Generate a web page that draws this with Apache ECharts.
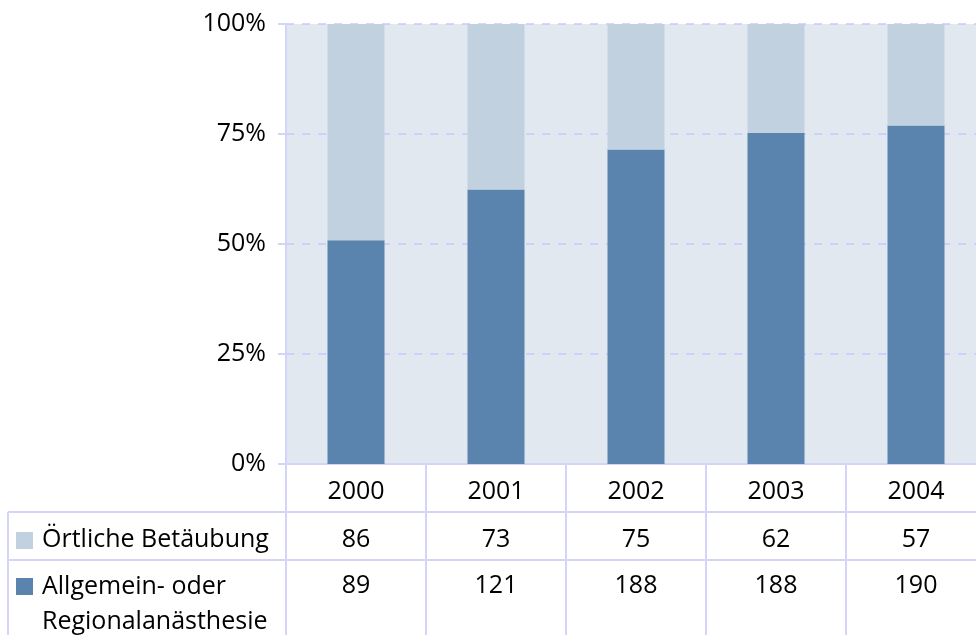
<!DOCTYPE html>
<html>
<head>
<meta charset="utf-8">
<script src="https://cdn.jsdelivr.net/npm/echarts@6/dist/echarts.min.js"></script>
<style>
html, body { margin: 0; padding: 0; background: #fff; }
#main { width: 976px; height: 635px; }
</style>
</head>
<body>
<div id="main"></div>
<script>
var years = ['2000', '2001', '2002', '2003', '2004'];
var oertlich = [86, 73, 75, 62, 57];
var allgemein = [89, 121, 188, 188, 190];
var seriesNames = ['Örtliche Betäubung', 'Allgemein- oder\nRegionalanästhesie'];
var tickLabels = ['0%', '25%', '50%', '75%', '100%'];

var FONT = '"Open Sans", "Noto Sans", sans-serif';
var FS = 25;
var DARK = '#5a84ad', LIGHT = '#c1d1e0', LINE = '#d4d4f8';

// Anteile in Prozent aus den Zahlen
var pctA = [], pctO = [];
for (var i = 0; i < years.length; i++) {
    var sum = oertlich[i] + allgemein[i];
    pctA.push(allgemein[i] / sum * 100);
    pctO.push(oertlich[i] / sum * 100);
}

var chart = echarts.init(document.getElementById('main'));
var option = {
    animation: false,
    grid: {
        left: 286, width: 700, top: 24, bottom: 171,
        outerBoundsMode: 'none',
        show: true,
        backgroundColor: '#e1e8f0',
        borderWidth: 0
    },
    xAxis: {
        type: 'category',
        data: years,
        axisLine: { lineStyle: { color: LINE, width: 2 } },
        axisTick: { show: false },
        axisLabel: {
            color: '#000', fontSize: FS, fontFamily: FONT, margin: 15
        }
    },
    yAxis: {
        type: 'value',
        min: 0, max: 100, interval: 25,
        axisLine: { show: true, lineStyle: { color: LINE, width: 2 } },
        axisTick: { show: true, length: 8, lineStyle: { color: LINE, width: 2 } },
        splitLine: { lineStyle: { color: '#c8c8ff', type: [8, 8], width: 1.5 } },
        axisLabel: {
            color: '#000', fontSize: FS, fontFamily: FONT, margin: 20,
            formatter: function (v) { return tickLabels[v / 25]; }
        }
    },
    series: [{
        name: seriesNames[1],
        type: 'bar',
        stack: 'a',
        barWidth: 57,
        itemStyle: { color: DARK },
        data: pctA
    }, {
        name: seriesNames[0],
        type: 'bar',
        stack: 'a',
        barWidth: 57,
        itemStyle: { color: LIGHT },
        data: pctO
    }]
};
chart.setOption(option);

// Datentabelle unter dem Diagramm
function drawTable() {
    var g = [];
    var x0 = chart.convertToPixel({ xAxisIndex: 0 }, years[0]);
    var x1 = chart.convertToPixel({ xAxisIndex: 0 }, years[1]);
    var step = x1 - x0;
    var left = x0 - step / 2;
    var yAxisY = chart.convertToPixel({ yAxisIndex: 0 }, 0);
    var row1 = yAxisY + 48, row2 = row1 + 48, bottom = 640;
    var lineStyle = { stroke: LINE, lineWidth: 2 };
    var font = FS + 'px ' + FONT;

    g.push({ type: 'line', shape: { x1: 8, y1: row1, x2: 976, y2: row1 }, style: lineStyle });
    g.push({ type: 'line', shape: { x1: 8, y1: row2, x2: 976, y2: row2 }, style: lineStyle });
    g.push({ type: 'line', shape: { x1: 8, y1: row1, x2: 8, y2: bottom }, style: lineStyle });
    for (var i = 0; i <= years.length; i++) {
        var x = left + i * step;
        g.push({ type: 'line', shape: { x1: x, y1: yAxisY, x2: x, y2: bottom }, style: lineStyle });
    }
    for (var i = 0; i < years.length; i++) {
        var cx = x0 + i * step;
        g.push({ type: 'text', x: cx, y: row1 + 28, style: {
            text: String(oertlich[i]), fill: '#000', font: font,
            align: 'center', verticalAlign: 'middle' } });
        g.push({ type: 'text', x: cx, y: row2 + 26, style: {
            text: String(allgemein[i]), fill: '#000', font: font,
            align: 'center', verticalAlign: 'middle' } });
    }
    g.push({ type: 'rect', shape: { x: 16, y: row1 + 20, width: 17, height: 17 }, style: { fill: LIGHT } });
    g.push({ type: 'rect', shape: { x: 16, y: row2 + 18, width: 17, height: 17 }, style: { fill: DARK } });
    g.push({ type: 'text', x: 42, y: row1 + 28, style: {
        text: seriesNames[0], fill: '#000', font: font, verticalAlign: 'middle' } });
    g.push({ type: 'text', x: 42, y: row2 + 9, style: {
        text: seriesNames[1], fill: '#000', font: font, lineHeight: 35, verticalAlign: 'top' } });
    chart.setOption({ graphic: g });
}
drawTable();
</script>
</body>
</html>
